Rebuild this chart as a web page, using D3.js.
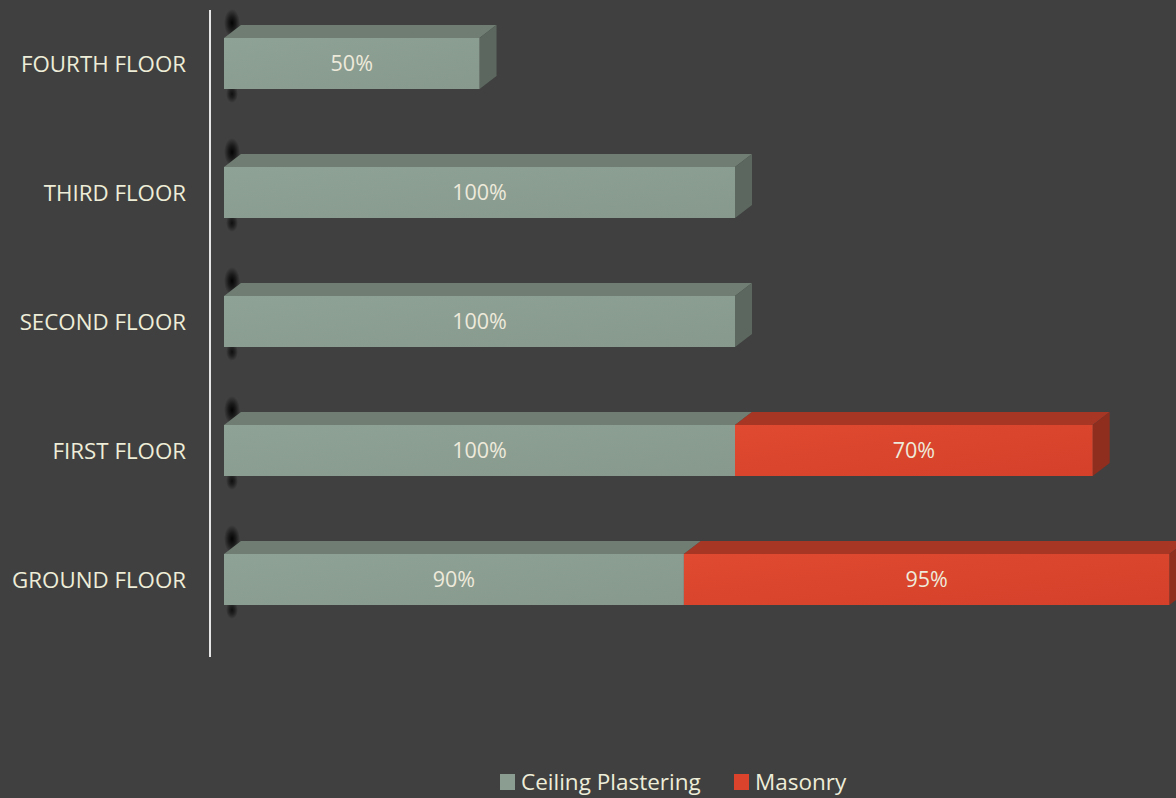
<!DOCTYPE html>
<html><head><meta charset="utf-8">
<script src="https://cdn.jsdelivr.net/npm/d3@7"></script>
<style>
html,body{margin:0;padding:0;background:#404040;}
svg{display:block;}
</style></head>
<body>
<svg id="chart" width="1176" height="798"></svg>
<script>
const categories = ["FOURTH FLOOR","THIRD FLOOR","SECOND FLOOR","FIRST FLOOR","GROUND FLOOR"];
const seriesNames = ["Ceiling Plastering","Masonry"];
const ceilingPlastering = [50,100,100,100,90];
const masonry = [0,0,0,70,95];

const W = 1176, H = 798;
const svg = d3.select("#chart");
svg.append("rect").attr("width",W).attr("height",H).attr("fill","#404040");

const colors = {
  "Ceiling Plastering": {front:["#8fa296","#87998d"], top:"#6f7d73", side:"#5c685f", legend:"#8b9d91"},
  "Masonry": {front:["#df4a30","#d4402a"], top:"#a73625", side:"#8f2e1e", legend:"#dc432c"}
};
const defs = svg.append("defs");
seriesNames.forEach((s,i)=>{
  const g = defs.append("linearGradient").attr("id","gf"+i).attr("x1",0).attr("y1",0).attr("x2",1).attr("y2",1);
  g.append("stop").attr("offset","0%").attr("stop-color",colors[s].front[0]);
  g.append("stop").attr("offset","100%").attr("stop-color",colors[s].front[1]);
});
const rg = defs.append("radialGradient").attr("id","shadow");
rg.append("stop").attr("offset","0%").attr("stop-color","#000").attr("stop-opacity",0.95);
rg.append("stop").attr("offset","45%").attr("stop-color","#000").attr("stop-opacity",0.6);
rg.append("stop").attr("offset","100%").attr("stop-color","#000").attr("stop-opacity",0);

const x = d3.scaleLinear().domain([0,100]).range([224,735]);
const y = d3.scaleBand().domain(categories).range([10,655]).padding(0);
const depthX = 17, depthY = 13;
const faceTop = 28, faceH = 51;
const FONT = "Open Sans, sans-serif";

const rows = categories.map((c,i)=>({cat:c, vals:[ceilingPlastering[i], masonry[i]]}));

// soft shadows near axis
const shadowG = svg.append("g");
rows.forEach(r=>{
  const t = y(r.cat)+faceTop;
  shadowG.append("ellipse").attr("cx",232).attr("cy",t-15).attr("rx",8).attr("ry",14).attr("fill","url(#shadow)");
  shadowG.append("ellipse").attr("cx",232).attr("cy",t+faceH+5).attr("rx",6).attr("ry",9).attr("fill","url(#shadow)").attr("opacity",0.8);
});

const barsG = svg.append("g");
rows.forEach(r=>{
  let cum = 0;
  const t = y(r.cat)+faceTop, b = t+faceH;
  r.vals.forEach((v,si)=>{
    if(!v) return;
    const s = seriesNames[si];
    const x0 = x(cum), x1 = x(cum+v);
    cum += v;
    const g = barsG.append("g");
    g.append("path").attr("d",`M${x0},${t}L${x0+depthX},${t-depthY}L${x1+depthX},${t-depthY}L${x1},${t}Z`).attr("fill",colors[s].top);
    g.append("path").attr("d",`M${x1},${t}L${x1+depthX},${t-depthY}L${x1+depthX},${b-depthY}L${x1},${b}Z`).attr("fill",colors[s].side);
    g.append("rect").attr("x",x0).attr("y",t).attr("width",x1-x0).attr("height",faceH).attr("fill",`url(#gf${si})`);
    g.append("text").attr("x",(x0+x1)/2).attr("y",(t+b)/2+7.5)
      .attr("text-anchor","middle").attr("font-family",FONT).attr("font-size",21.5)
      .attr("fill","#eeeadb").text(v+"%");
  });
});

// axis line
svg.append("line").attr("x1",210).attr("x2",210).attr("y1",10).attr("y2",657).attr("stroke","#e6e6e6").attr("stroke-width",2);

// category labels
svg.append("g").selectAll("text").data(categories).join("text")
  .attr("x",186).attr("y",d=>y(d)+faceTop+faceH/2+8)
  .attr("text-anchor","end").attr("font-family",FONT).attr("font-size",22.3)
  .attr("fill","#eeedd8").text(d=>d);

// legend
const legend = svg.append("g");
const legendItems = [{name:seriesNames[0], x:500},{name:seriesNames[1], x:734}];
legendItems.forEach(it=>{
  legend.append("rect").attr("x",it.x).attr("y",774).attr("width",15).attr("height",16).attr("fill",colors[it.name].legend);
  legend.append("text").attr("x",it.x+21).attr("y",790).attr("font-family",FONT).attr("font-size",22.5)
    .attr("fill","#eeedd8").text(it.name);
});
</script>
</body></html>
